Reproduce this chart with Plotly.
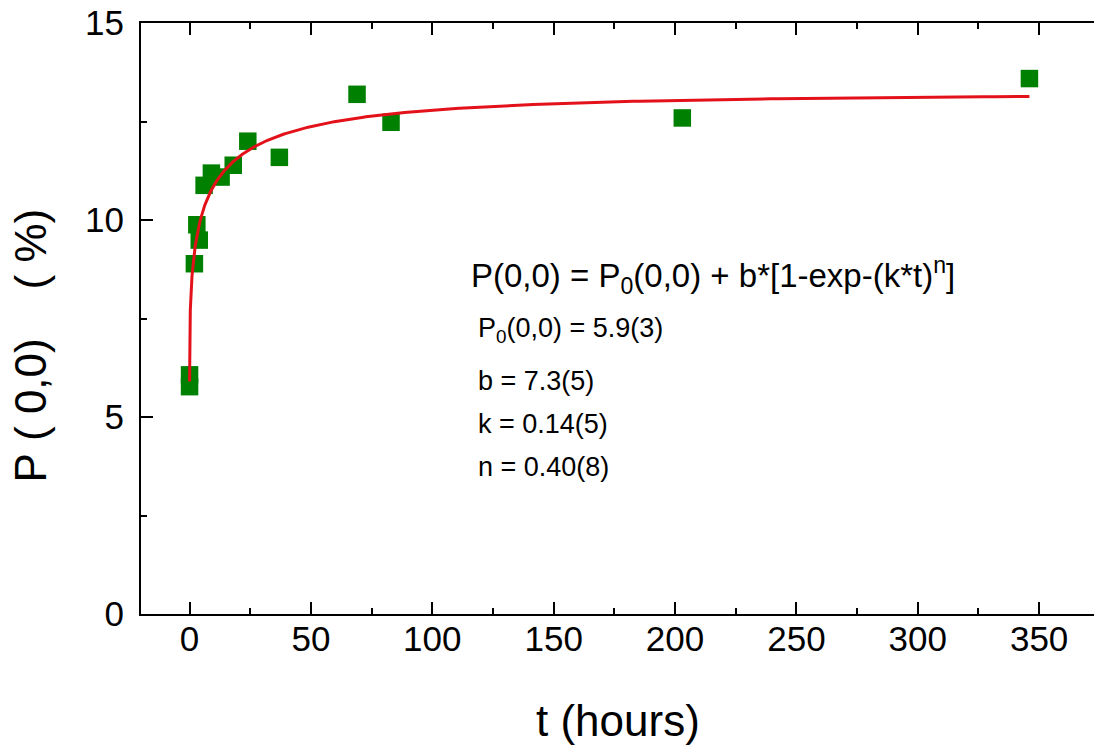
import numpy as np
import plotly.graph_objects as go

# Measured P(0,0) occupancy versus annealing time
t_hours = [0, 0, 2, 3, 4, 6, 9, 13, 18, 24, 37, 69, 83, 203, 346]
p00_pct = [6.07, 5.77, 8.89, 9.88, 9.49, 10.88, 11.19, 11.09, 11.39, 12.0,
           11.59, 13.19, 12.48, 12.59, 13.59]

# Fitted parameters of P(0,0) = P0(0,0) + b*[1-exp-(k*t)^n]
fit_P0 = 5.9
fit_b = 7.3
fit_k = 0.14
fit_n = 0.40
fit_t_max = 346

x_ticks = [0, 50, 100, 150, 200, 250, 300, 350]
y_ticks = [0, 5, 10, 15]

FONT = "Liberation Sans, Arial, sans-serif"

# dense sampling near t = 0 where the stretched exponential is steep
t_fit = np.concatenate([[0.0], np.geomspace(1e-3, fit_t_max, 900)])
p_fit = fit_P0 + fit_b * (1.0 - np.exp(-(fit_k * t_fit) ** fit_n))

fig = go.Figure()

fig.add_trace(go.Scatter(
    x=t_hours, y=p00_pct, mode="markers",
    marker=dict(symbol="square", size=17.5, color="#008000",
                line=dict(width=0)),
    showlegend=False, hoverinfo="skip",
))
fig.add_trace(go.Scatter(
    x=t_fit, y=p_fit, mode="lines",
    line=dict(color="#E3121A", width=3),
    showlegend=False, hoverinfo="skip",
))

axis_common = dict(
    showgrid=False, zeroline=False,
    showline=True, linewidth=2, linecolor="black",
    ticks="inside", ticklen=12, tickwidth=2, tickcolor="black",
    tickfont=dict(family=FONT, size=35, color="black"),
)

fig.update_layout(
    width=1094, height=747,
    margin=dict(l=141, r=0, t=23, b=133),
    paper_bgcolor="white", plot_bgcolor="white",
    showlegend=False,
    xaxis=dict(
        range=[-20, 372.6], tickvals=x_ticks,
        ticktext=[str(v) for v in x_ticks],
        mirror="ticks",
        minor=dict(dtick=25, tick0=0, ticks="inside", ticklen=6,
                   tickwidth=2, tickcolor="black"),
        ticklabelstandoff=-7,
        **axis_common,
    ),
    yaxis=dict(
        range=[0, 15], tickvals=y_ticks,
        ticktext=[str(v) for v in y_ticks],
        mirror=False,
        minor=dict(dtick=2.5, tick0=0, ticks="inside", ticklen=6,
                   tickwidth=2, tickcolor="black"),
        ticklabelstandoff=8,
        **axis_common,
    ),
    yaxis2=dict(
        overlaying="y", side="right", range=[0, 15],
        tickvals=y_ticks, showticklabels=False,
        showgrid=False, zeroline=False, showline=False,
        ticks="inside", ticklen=7, tickwidth=2, tickcolor="black",
        minor=dict(dtick=2.5, tick0=0, ticks="inside", ticklen=2,
                   tickwidth=2, tickcolor="black"),
    ),
)

# axis titles
fig.add_annotation(
    text="t (hours)", xref="paper", yref="paper", x=0.5, y=-0.18,
    xanchor="center", yanchor="middle", showarrow=False,
    font=dict(family=FONT, size=44, color="black"),
)
fig.add_annotation(
    text="P\u00a0(\u00a00,0)\u00a0\u00a0\u00a0\u00a0(\u00a0%)",
    xref="paper", yref="paper", x=-0.116, y=0.455, textangle=-90,
    xanchor="center", yanchor="middle", showarrow=False,
    font=dict(family=FONT, size=44, color="black"),
)

# fit equation and parameters
fig.add_annotation(
    text="P(0,0) = P<sub>0</sub>(0,0) + b*[1-exp-(k*t)<sup>n</sup>]",
    x=115.0, y=8.6, xanchor="left", yanchor="middle", showarrow=False,
    font=dict(family=FONT, size=33, color="black"),
)
param_lines = [
    "P<sub>0</sub>(0,0) = %.1f(3)" % fit_P0,
    "b = %.1f(5)" % fit_b,
    "k = %.2f(5)" % fit_k,
    "n = %.2f(8)" % fit_n,
]
param_y = [7.21, 5.91, 4.82, 3.73]
for txt, yy in zip(param_lines, param_y):
    fig.add_annotation(
        text=txt, x=118.0, y=yy, xanchor="left", yanchor="middle",
        showarrow=False, font=dict(family=FONT, size=27, color="black"),
    )

fig.write_html("out.html")
